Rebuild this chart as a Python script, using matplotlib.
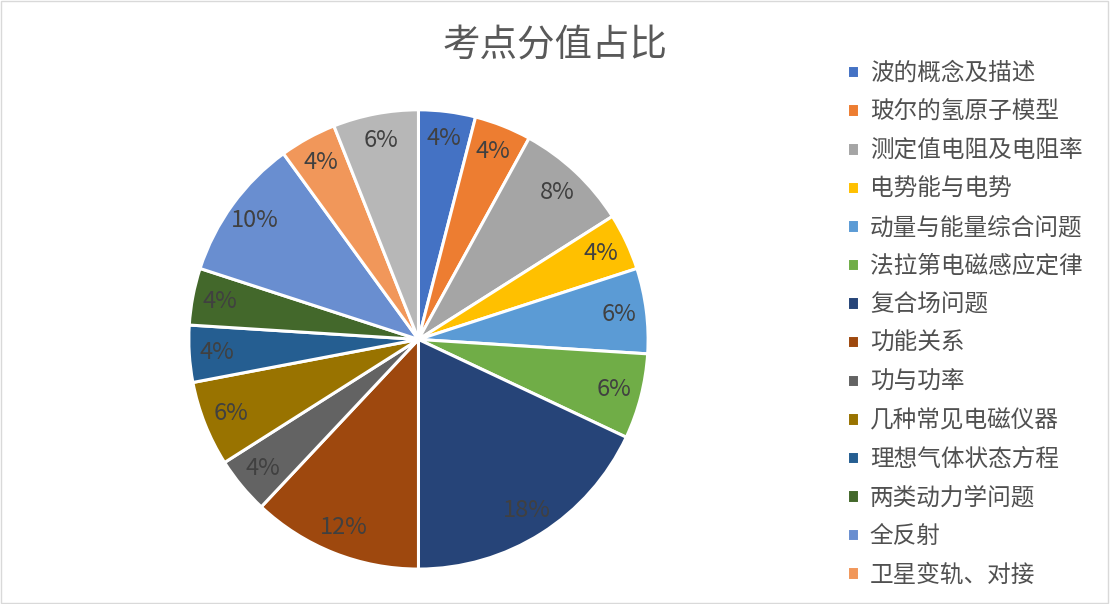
import matplotlib.pyplot as plt
from matplotlib.patches import Rectangle

plt.rcParams['font.family'] = ['Noto Sans CJK SC', 'DejaVu Sans']

topics = ['波的概念及描述', '玻尔的氢原子模型', '测定值电阻及电阻率', '电势能与电势',
          '动量与能量综合问题', '法拉第电磁感应定律', '复合场问题', '功能关系',
          '功与功率', '几种常见电磁仪器', '理想气体状态方程', '两类动力学问题',
          '全反射', '卫星变轨、对接', '其他']
scores = [2, 2, 4, 2, 3, 3, 9, 6, 2, 3, 2, 2, 5, 2, 3]
colors = ['#4472C4', '#ED7D31', '#A5A5A5', '#FFC000', '#5B9BD5', '#70AD47',
          '#264478', '#9E480E', '#636363', '#997300', '#255E91', '#43682B',
          '#698ED0', '#F1975A', '#B7B7B7']

fig = plt.figure(figsize=(11.1, 6.04), dpi=100)
fig.patches.append(Rectangle((0.001, 0.001), 0.997, 0.997, transform=fig.transFigure,
                             fill=False, edgecolor='#d9d9d9', linewidth=1))

ax = fig.add_axes([0.168, 0.054, 0.418, 0.768])
wedges, texts, autotexts = ax.pie(scores, colors=colors, startangle=90, counterclock=False,
                                  autopct='%1.0f%%', pctdistance=0.88,
                                  wedgeprops=dict(edgecolor='white', linewidth=2.2),
                                  textprops=dict(color='#404040', fontsize=17))
ax.set_aspect('equal')
ax.set_xlim(-1.01, 1.01)
ax.set_ylim(-1.01, 1.01)

fig.text(0.5, 0.925, '考点分值占比', ha='center', va='center', fontsize=27, color='#595959')

fig.legend(wedges[:14], topics[:14], loc='upper left', bbox_to_anchor=(0.755, 0.913),
           frameon=False, fontsize=17, handlelength=0.5, handleheight=0.5,
           handletextpad=0.45, labelspacing=0.66, labelcolor='#505050', borderaxespad=0)

plt.savefig('out.png', dpi=100)
